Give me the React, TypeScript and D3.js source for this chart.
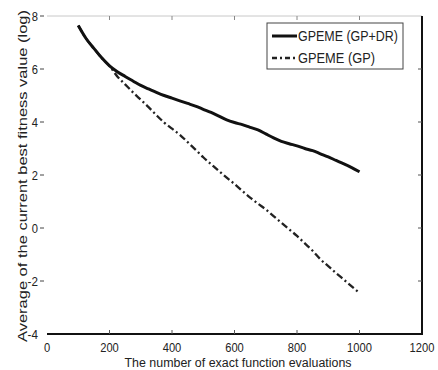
import React from "react";
import * as d3 from "d3";

const xValues = [100,125,150,175,200,225,250,275,300,325,350,375,400,425,450,475,500,525,550,575,600,625,650,675,700,725,750,775,800,825,850,875,900,925,950,975,1000];
const gpdr = [7.64,7.15,6.78,6.42,6.12,5.9,5.72,5.55,5.38,5.25,5.12,5.0,4.9,4.8,4.7,4.6,4.48,4.36,4.22,4.08,3.98,3.9,3.8,3.7,3.55,3.4,3.27,3.18,3.1,3.0,2.92,2.8,2.68,2.55,2.42,2.28,2.12];
const gp = [7.64,7.15,6.78,6.42,6.12,5.72,5.42,5.12,4.84,4.56,4.26,3.98,3.75,3.52,3.24,2.96,2.67,2.41,2.15,1.9,1.66,1.4,1.15,0.92,0.7,0.45,0.2,-0.05,-0.3,-0.58,-0.86,-1.18,-1.44,-1.7,-1.95,-2.2,-2.45];
const xTicks = [0,200,400,600,800,1000,1200];
const yTicks = [-4,-2,0,2,4,6,8];
const seriesNames = ["GPEME (GP+DR)", "GPEME (GP)"];
const xTitle = "The number of exact function evaluations";
const yTitle = "Average of the current best fitness value (log)";

export default function App() {
  const W = 438, H = 370;
  const L = 47, R = 422, T = 16, B = 334;
  const x = d3.scaleLinear().domain([0, 1200]).range([L, R]);
  const y = d3.scaleLinear().domain([-4, 8]).range([B, T]);
  const line = d3.line<[number, number]>().x(d => x(d[0])).y(d => y(d[1])).curve(d3.curveMonotoneX);
  const solidPts = xValues.map((v, i) => [v, gpdr[i]] as [number, number]);
  const dashPts = xValues.map((v, i) => [v, gp[i]] as [number, number]);
  const font = "'Liberation Sans', Arial, sans-serif";
  const digitW = 6.2;
  return (
    <svg width={W} height={H} style={{ position: "absolute", left: 0, top: 0, background: "#fff" }} fontFamily={font}>
      {/* top axis (faint) */}
      <line x1={L} x2={R} y1={T} y2={T} stroke="#c8c8c8" strokeWidth={1} />
      {xTicks.slice(1, -1).map(t => (
        <line key={"tt" + t} x1={x(t)} x2={x(t)} y1={T} y2={T + 4} stroke="#888" strokeWidth={1} />
      ))}
      {/* bottom axis */}
      <line x1={L} x2={R + 1} y1={B} y2={B} stroke="#111" strokeWidth={2} />
      {xTicks.slice(1, -1).map(t => (
        <line key={"bt" + t} x1={x(t)} x2={x(t)} y1={B} y2={B - 4} stroke="#555" strokeWidth={1} />
      ))}
      {/* right axis */}
      <line x1={R} x2={R} y1={T} y2={B} stroke="#111" strokeWidth={2} />
      {yTicks.slice(1, -1).map(t => (
        <line key={"rt" + t} x1={R} x2={R - 4} y1={y(t)} y2={y(t)} stroke="#555" strokeWidth={1} />
      ))}
      {/* y tick labels */}
      {yTicks.map(t => {
        const s = String(t);
        return (
          <g key={"yl" + t}>
            <text x={38} y={y(t) + 4.5} textAnchor="end" fontSize={13} fill="#222" textLength={s.length * digitW - (t < 0 ? 2 : 0)} lengthAdjust="spacingAndGlyphs">{s}</text>
            {t !== -4 && <line x1={40} x2={44} y1={y(t)} y2={y(t)} stroke="#444" strokeWidth={1} />}
          </g>
        );
      })}
      {/* x tick labels */}
      {xTicks.map(t => {
        const s = String(t);
        return (
          <text key={"xl" + t} x={x(t)} y={352} textAnchor="middle" fontSize={13} fill="#222" textLength={s.length * digitW} lengthAdjust="spacingAndGlyphs">{s}</text>
        );
      })}
      {/* titles */}
      <text x={238} y={367} textAnchor="middle" fontSize={12.5} fill="#222" textLength={227} lengthAdjust="spacingAndGlyphs">{xTitle}</text>
      <text transform={`translate(27,176) rotate(-90)`} textAnchor="middle" fontSize={13.5} fill="#222" textLength={332} lengthAdjust="spacingAndGlyphs">{yTitle}</text>
      {/* lines */}
      <path d={line(dashPts) || ""} fill="none" stroke="#222" strokeWidth={2.3} strokeDasharray="7,3,2,3" />
      <path d={line(solidPts) || ""} fill="none" stroke="#111" strokeWidth={3} />
      {/* legend */}
      <rect x={267} y={23} width={136} height={46} fill="#fff" stroke="#444" strokeWidth={1} />
      <line x1={272} x2={297} y1={36} y2={36} stroke="#111" strokeWidth={3} />
      <text x={298} y={41} fontSize={14} fill="#222" textLength={100} lengthAdjust="spacingAndGlyphs">{seriesNames[0]}</text>
      <line x1={272} x2={297} y1={58} y2={58} stroke="#222" strokeWidth={2.3} strokeDasharray="5,3,2,3" />
      <text x={298} y={63} fontSize={14} fill="#222" textLength={77} lengthAdjust="spacingAndGlyphs">{seriesNames[1]}</text>
    </svg>
  );
}
